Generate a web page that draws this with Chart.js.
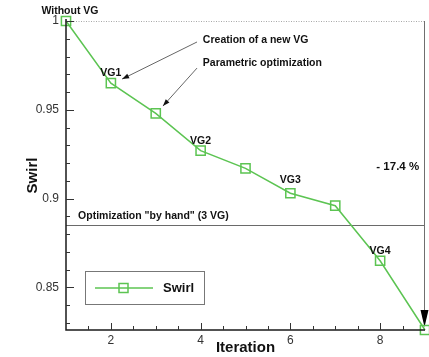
<!DOCTYPE html>
<html>
<head>
<meta charset="utf-8">
<script src="https://cdn.jsdelivr.net/npm/chart.js@4"></script>
<style>
  html, body { margin: 0; padding: 0; background: #fff; }
  canvas { display: block; }
</style>
</head>
<body>
<canvas id="swirlChart" width="429" height="357"></canvas>
<script>
// Swirl history over the optimisation iterations
const iterations = [1, 2, 3, 4, 5, 6, 7, 8, 9];
const swirl = [1.0, 0.965, 0.948, 0.927, 0.917, 0.903, 0.896, 0.865, 0.826];
const pointNames = ['Without VG', 'VG1', '', 'VG2', '', 'VG3', '', 'VG4', ''];
const xTickLabels = [2, 4, 6, 8];
const yTickLabels = [0.85, 0.9, 0.95, 1];
const handOptimum = 0.885;           // best swirl reached with 3 VG placed by hand
const reductionText = '- 17.4 %';

const GREEN = '#5cc452';
const FAMILY = '"Liberation Sans", Arial, sans-serif';
const BOLD = 'bold 10.5px ' + FAMILY;

// free text and arrows, placed in data units
const notes = [
  { text: 'Creation of a new VG', x: 4.05, y: 0.9893, align: 'left' },
  { text: 'Parametric optimization', x: 4.05, y: 0.9763, align: 'left' },
  { text: 'Optimization "by hand" (3 VG)', x: 1.27, y: 0.8902, align: 'left' },
  { text: reductionText, x: 8.87, y: 0.9178, align: 'right' }
];
const arrows = [
  { from: [3.92, 0.9882], to: [2.25, 0.9673] },
  { from: [3.92, 0.9735], to: [3.16, 0.9521] }
];

function arrowHead(ctx, x1, y1, x2, y2, len, half) {
  const a = Math.atan2(y2 - y1, x2 - x1);
  ctx.beginPath();
  ctx.moveTo(x2, y2);
  ctx.lineTo(x2 - len * Math.cos(a) + half * Math.sin(a), y2 - len * Math.sin(a) - half * Math.cos(a));
  ctx.lineTo(x2 - len * Math.cos(a) - half * Math.sin(a), y2 - len * Math.sin(a) + half * Math.cos(a));
  ctx.closePath();
  ctx.fill();
}

const framePlugin = {
  id: 'frame',
  beforeDatasetsDraw(chart) {
    const { ctx, chartArea: ca, scales: { x, y } } = chart;
    ctx.save();
    // dotted reference at the initial swirl
    ctx.strokeStyle = '#a8a8a8';
    ctx.lineWidth = 1;
    ctx.setLineDash([1, 1.5]);
    ctx.beginPath();
    ctx.moveTo(ca.left, y.getPixelForValue(1) + 0.5);
    ctx.lineTo(ca.right, y.getPixelForValue(1) + 0.5);
    ctx.stroke();
    ctx.setLineDash([]);
    // hand optimisation level
    const yh = Math.round(y.getPixelForValue(handOptimum)) + 0.5;
    ctx.strokeStyle = '#6a6a6a';
    ctx.beginPath();
    ctx.moveTo(ca.left, yh);
    ctx.lineTo(ca.right, yh);
    ctx.stroke();
    // total reduction arrow down to the last iteration
    const last = iterations.length - 1;
    const xa = x.getPixelForValue(iterations[last]) - 0.5;
    const yTip = y.getPixelForValue(swirl[last]) - 3;
    ctx.strokeStyle = '#6f6f6f';
    ctx.beginPath();
    ctx.moveTo(xa, y.getPixelForValue(1));
    ctx.lineTo(xa, yTip - 14);
    ctx.stroke();
    ctx.fillStyle = '#000';
    ctx.beginPath();
    ctx.moveTo(xa, yTip);
    ctx.lineTo(xa - 4, yTip - 17);
    ctx.lineTo(xa + 4, yTip - 17);
    ctx.closePath();
    ctx.fill();
    ctx.restore();
  },
  afterDatasetsDraw(chart) {
    const { ctx, chartArea: ca, scales: { x, y } } = chart;
    ctx.save();
    // axes
    ctx.strokeStyle = '#1a1a1a';
    ctx.lineWidth = 1.5;
    ctx.beginPath();
    ctx.moveTo(ca.left, ca.top - 2);
    ctx.lineTo(ca.left, ca.bottom);
    ctx.lineTo(ca.right, ca.bottom);
    ctx.stroke();
    // inward tick marks
    ctx.lineWidth = 1;
    ctx.strokeStyle = '#333';
    ctx.beginPath();
    for (let v = 0.83; v <= 1.0001; v += 0.01) {
      const py = Math.round(y.getPixelForValue(v)) + 0.5;
      const major = yTickLabels.some(t => Math.abs(t - v) < 1e-6);
      ctx.moveTo(ca.left, py);
      ctx.lineTo(ca.left + (major ? 8 : 4), py);
    }
    for (let v = 1.5; v < 9; v += 0.5) {
      const px = Math.round(x.getPixelForValue(v)) + 0.5;
      const major = xTickLabels.includes(v);
      ctx.moveTo(px, ca.bottom);
      ctx.lineTo(px, ca.bottom - (major ? 7 : 4));
    }
    ctx.stroke();

    // point names above the markers
    const meta = chart.getDatasetMeta(0);
    ctx.fillStyle = '#111';
    ctx.font = BOLD;
    ctx.textAlign = 'center';
    ctx.textBaseline = 'middle';
    meta.data.forEach((pt, i) => {
      if (!pointNames[i]) return;
      const dx = i === 0 ? 4 : 0;
      ctx.fillText(pointNames[i], pt.x + dx, pt.y - (i === 5 ? 13 : 10));
    });

    // free text
    notes.forEach(n => {
      ctx.font = n.text === reductionText ? 'bold 11.5px ' + FAMILY : BOLD;
      ctx.textAlign = n.align;
      ctx.fillText(n.text, x.getPixelForValue(n.x), y.getPixelForValue(n.y));
    });

    // pointer arrows
    arrows.forEach(a => {
      const x1 = x.getPixelForValue(a.from[0]), y1 = y.getPixelForValue(a.from[1]);
      const x2 = x.getPixelForValue(a.to[0]), y2 = y.getPixelForValue(a.to[1]);
      ctx.strokeStyle = '#666';
      ctx.lineWidth = 1;
      ctx.beginPath();
      ctx.moveTo(x1, y1);
      ctx.lineTo(x2, y2);
      ctx.stroke();
      ctx.fillStyle = '#111';
      arrowHead(ctx, x1, y1, x2, y2, 7, 2.5);
    });

    // legend box
    const bx = ca.left + 19, by = ca.bottom - 59, bw = 119, bh = 33;
    ctx.fillStyle = '#fff';
    ctx.fillRect(bx, by, bw, bh);
    ctx.strokeStyle = '#777';
    ctx.lineWidth = 1;
    ctx.strokeRect(bx + 0.5, by + 0.5, bw, bh);
    const ly = by + bh / 2 + 0.5;
    ctx.strokeStyle = GREEN;
    ctx.lineWidth = 1.5;
    ctx.beginPath();
    ctx.moveTo(bx + 10, ly);
    ctx.lineTo(bx + 68, ly);
    ctx.stroke();
    ctx.strokeRect(bx + 34, ly - 4.5, 9, 9);
    ctx.fillStyle = '#111';
    ctx.font = 'bold 13px ' + FAMILY;
    ctx.textAlign = 'left';
    ctx.fillText(chart.data.datasets[0].label, bx + 78, ly);
    ctx.restore();
  }
};

new Chart(document.getElementById('swirlChart'), {
  type: 'line',
  data: {
    datasets: [{
      label: 'Swirl',
      data: iterations.map((it, i) => ({ x: it, y: swirl[i] })),
      borderColor: GREEN,
      borderWidth: 1.5,
      tension: 0,
      pointStyle: 'rect',
      pointRadius: 6.5,
      pointBorderWidth: 1.5,
      pointBorderColor: GREEN,
      pointBackgroundColor: 'rgba(0,0,0,0)',
      clip: false
    }]
  },
  options: {
    responsive: false,
    animation: false,
    events: [],
    layout: { autoPadding: false, padding: { top: 21, right: 4, left: 0, bottom: 0 } },
    plugins: { legend: { display: false }, tooltip: { enabled: false } },
    scales: {
      x: {
        type: 'linear',
        min: 1, max: 9,
        grid: { display: false, drawTicks: false },
        border: { display: false },
        afterBuildTicks: s => { s.ticks = xTickLabels.map(v => ({ value: v })); },
        afterFit: s => { s.height = 27; s.paddingLeft = 0; s.paddingRight = 0; },
        ticks: {
          autoSkip: false, maxRotation: 0, padding: 3,
          color: '#333',
          font: { family: FAMILY, size: 12 },
          callback: v => String(v)
        },
        title: {
          display: true, text: 'Iteration', color: '#111',
          padding: { top: 0, bottom: 0 },
          font: { family: FAMILY, size: 15, weight: 'bold' }
        }
      },
      y: {
        min: 0.826, max: 1.0,
        grid: { display: false, drawTicks: false },
        border: { display: false },
        afterBuildTicks: s => { s.ticks = yTickLabels.map(v => ({ value: v })); },
        afterFit: s => { s.width = 66; s.paddingTop = 0; s.paddingBottom = 0; },
        ticks: {
          autoSkip: false, padding: 7,
          color: '#333',
          font: { family: FAMILY, size: 12 },
          callback: v => String(v)
        },
        title: {
          display: true, text: 'Swirl', color: '#111',
          padding: { top: 24, bottom: 0 },
          font: { family: FAMILY, size: 15, weight: 'bold' }
        }
      }
    }
  },
  plugins: [framePlugin]
});
</script>
</body>
</html>
